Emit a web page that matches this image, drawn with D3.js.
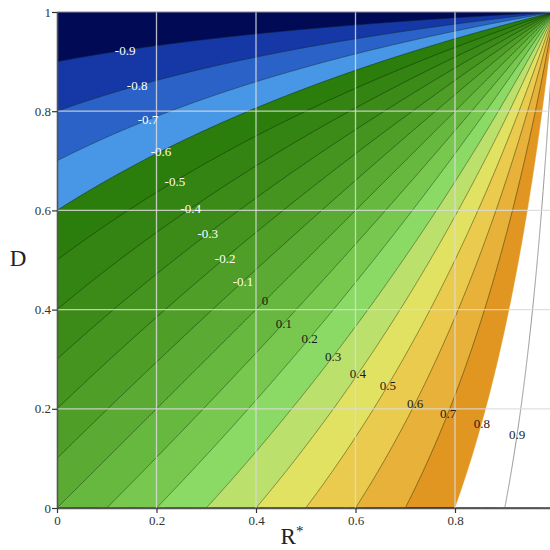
<!DOCTYPE html>
<html><head><meta charset="utf-8">
<script src="https://cdn.jsdelivr.net/npm/d3@7"></script>
<style>html,body{margin:0;padding:0;background:#fff;}svg{display:block;font-family:"Liberation Serif","DejaVu Serif",serif;}</style>
</head><body><svg id="c" width="550" height="550"></svg>
<script>
// contour levels (band lower bounds) and fill colours
const levels = [-1,-0.9,-0.8,-0.7,-0.6,-0.5,-0.4,-0.3,-0.2,-0.1,0,0.1,0.2,0.3,0.4,0.5,0.6,0.7,0.8];
const bandColors = ["#000a55","#1538a6","#2a62c8","#4896e6","#2c7e0c","#348413","#3c8b19","#459420","#4f9e28","#5aaa33","#66b83e","#78c84f","#8cda66","#bce06c","#e2e262","#eacb4e","#e8b23a","#e29622","#ffffff"];
const lineLevels = [-0.9,-0.8,-0.7,-0.6,-0.5,-0.4,-0.3,-0.2,-0.1,0,0.1,0.2,0.3,0.4,0.5,0.6,0.7];
const labelLevels = ["-0.9","-0.8","-0.7","-0.6","-0.5","-0.4","-0.3","-0.2","-0.1","0","0.1","0.2","0.3","0.4","0.5","0.6","0.7","0.8","0.9"];
const labelR = [0.137,0.161,0.183,0.209,0.237,0.269,0.303,0.338,0.374,0.418,0.456,0.508,0.555,0.605,0.665,0.72,0.786,0.854,0.925];
const xTicks = [0,0.2,0.4,0.6,0.8];
const yTicks = [0,0.2,0.4,0.6,0.8,1];

// field
const f = (R, D) => (R - D) / (1 - R * D);

const svg = d3.select("#c");
const x = d3.scaleLinear().domain([0,1]).range([57,554.5]);
const y = d3.scaleLinear().domain([0,1]).range([508,12]);

const n = 500;
const vals = new Float64Array(n*n);
for (let j=0;j<n;j++) for (let i=0;i<n;i++) vals[j*n+i] = f((i+0.5)/n,(j+0.5)/n);

const proj = d3.geoTransform({point:function(px,py){this.stream.point(x(px/n), y(py/n));}});
const path = d3.geoPath(proj);

svg.append("defs").append("clipPath").attr("id","plot")
  .append("rect").attr("x",x(0)).attr("y",y(1)).attr("width",x(1)-x(0)).attr("height",y(0)-y(1));
svg.append("defs").append("clipPath").attr("id","inner")
  .append("rect").attr("x",x(0)+0.8).attr("y",y(1)+0.8).attr("width",x(1)-x(0)-1.6).attr("height",y(0)-y(1)-1.6);

const contours = d3.contours().size([n,n]).thresholds(levels)(vals);
const g = svg.append("g").attr("clip-path","url(#plot)");
g.selectAll("path.fill").data(contours).join("path").attr("class","fill")
  .attr("d",path).attr("fill",(d,i)=>bandColors[i]).attr("stroke",(d,i)=>bandColors[i]).attr("stroke-width",0.3);

const lines = d3.contours().size([n,n]).thresholds(lineLevels)(vals);
const gl = svg.append("g").attr("clip-path","url(#inner)");
gl.selectAll("path.line").data(lines).join("path").attr("class","line")
  .attr("d",path).attr("fill","none").attr("stroke","#0a1a05").attr("stroke-opacity",0.6).attr("stroke-width",0.7);
const l9 = d3.contours().size([n,n]).thresholds([0.9])(vals);
gl.selectAll("path.l9").data(l9).join("path").attr("class","l9")
  .attr("d",path).attr("fill","none").attr("stroke","#8a8a8a").attr("stroke-width",0.9);

// grid
const grid = svg.append("g").attr("clip-path","url(#plot)");
grid.selectAll("line.gx").data(xTicks.slice(1)).join("line")
  .attr("x1",d=>x(d)).attr("x2",d=>x(d)).attr("y1",y(0)).attr("y2",y(1))
  .attr("stroke","#dadada").attr("stroke-opacity",0.85).attr("stroke-width",1.3);
grid.selectAll("line.gy").data(yTicks.slice(1,-1)).join("line")
  .attr("y1",d=>y(d)).attr("y2",d=>y(d)).attr("x1",x(0)).attr("x2",x(1))
  .attr("stroke","#dadada").attr("stroke-opacity",0.85).attr("stroke-width",1.3);

// contour labels
svg.append("g").selectAll("text").data(labelLevels).join("text")
  .attr("x",(d,i)=>x(labelR[i]))
  .attr("y",(d,i)=>{const L=+d, R=labelR[i]; return y((R-L)/(1-L*R));})
  .attr("dy","0.35em").attr("text-anchor","middle").attr("font-size",13)
  .attr("fill",d=>(+d<0?"#ffffff":"#1a1a1a")).text(d=>d);

// top frame
svg.append("line").attr("x1",x(0)).attr("x2",x(1)).attr("y1",y(1)).attr("y2",y(1)).attr("stroke","#8a8a9a").attr("stroke-width",1.2);

// axes
const ax = svg.append("g").attr("transform",`translate(0,${y(0)})`)
  .call(d3.axisBottom(x).tickValues(xTicks).tickFormat(d3.format("")).tickSize(5).tickSizeOuter(0));
const ay = svg.append("g").attr("transform",`translate(${x(0)},0)`)
  .call(d3.axisLeft(y).tickValues(yTicks).tickFormat(d3.format("")).tickSize(5).tickSizeOuter(0));
[ax,ay].forEach(a=>{
  a.attr("font-family","Liberation Serif, DejaVu Serif, serif");
  a.select(".domain").attr("stroke","#555").attr("stroke-width",1.6);
  a.selectAll(".tick line").attr("stroke","#333").attr("stroke-width",1.2);
  a.selectAll(".tick text").attr("font-size",13).attr("fill","#333");
});
ay.selectAll(".tick text").attr("x",-6);

// axis titles
svg.append("text").attr("x",18).attr("y",266).attr("text-anchor","middle").attr("font-size",23).attr("fill","#222").text("D");
const rt = svg.append("text").attr("x",292).attr("y",544).attr("text-anchor","middle").attr("font-size",23).attr("fill","#222");
rt.append("tspan").text("R");
rt.append("tspan").attr("dy",-8).attr("font-size",15).text("*");
</script></body></html>
